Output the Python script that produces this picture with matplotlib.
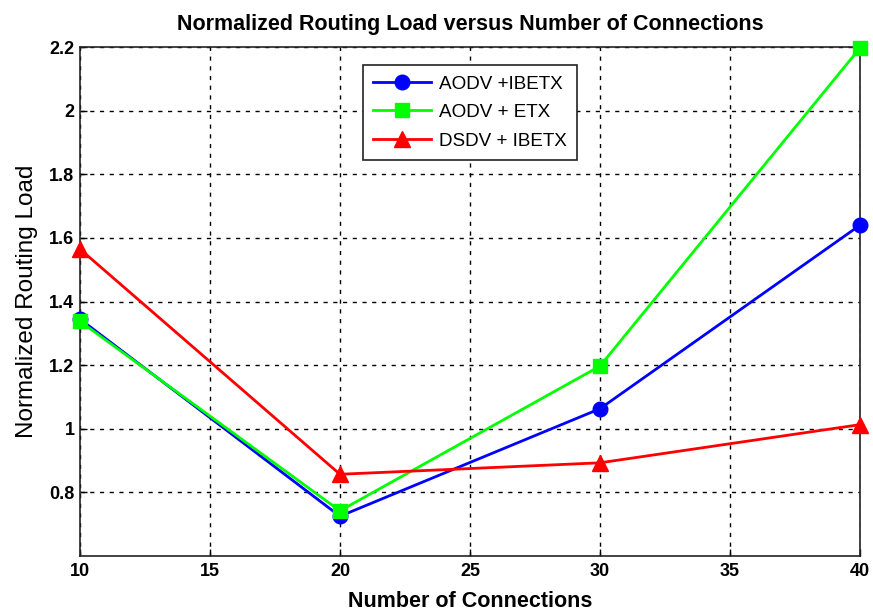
import matplotlib
matplotlib.use("Agg")
import matplotlib.pyplot as plt

# Carga de enrutamiento normalizada vs número de conexiones
connections = [10, 20, 30, 40]
aodv_ibetx = [1.345, 0.725, 1.063, 1.64]
aodv_etx = [1.338, 0.742, 1.197, 2.197]
dsdv_ibetx = [1.565, 0.857, 0.893, 1.013]

y_ticks = [0.8, 1.0, 1.2, 1.4, 1.6, 1.8, 2.0, 2.2]
y_tick_labels = ['0.8', '1', '1.2', '1.4', '1.6', '1.8', '2', '2.2']

plt.rcParams['font.family'] = ['Liberation Sans', 'DejaVu Sans']

fig = plt.figure(figsize=(8.73, 6.12), dpi=100)
ax = fig.add_axes([0.0916, 0.0915, 0.8934, 0.8315])

# clip_on=False para que los marcadores de los bordes se vean enteros
ax.plot(connections, aodv_ibetx, color='#0000FF', marker='o', markersize=10.5,
        linewidth=2, label='AODV +IBETX', clip_on=False, zorder=3)
ax.plot(connections, aodv_etx, color='#00FF00', marker='s', markersize=9.5,
        linewidth=2, label='AODV + ETX', clip_on=False, zorder=3)
ax.plot(connections, dsdv_ibetx, color='#FF0000', marker='^', markersize=11,
        linewidth=2, label='DSDV + IBETX', clip_on=False, zorder=3)

ax.set_xlim(10, 40)
ax.set_ylim(0.6, 2.2)
ax.set_xticks([10, 15, 20, 25, 30, 35, 40])
ax.set_yticks(y_ticks)
ax.set_yticklabels(y_tick_labels)
ax.tick_params(direction='in', length=5, width=1, labelsize=13)
ax.tick_params(axis='x', pad=5)
ax.tick_params(axis='y', pad=4)
for lbl in ax.get_xticklabels() + ax.get_yticklabels():
    lbl.set_fontweight('bold')

ax.grid(True, color='black', linestyle=(0, (3, 4)), linewidth=1)
for sp in ax.spines.values():
    sp.set_linewidth(1.2)
    sp.set_color('#222222')

ax.set_title('Normalized Routing Load versus Number of Connections',
             fontsize=15.5, fontweight='bold', pad=12)
ax.set_xlabel('Number of Connections', fontsize=15.5, fontweight='bold', labelpad=8)
ax.set_ylabel('Normalized Routing Load', fontsize=17.5, labelpad=8)

leg = ax.legend(loc='upper center', bbox_to_anchor=(0.5, 0.965), borderaxespad=0,
                fontsize=13.6, fancybox=False, framealpha=1, edgecolor='#222222',
                handlelength=3.1, handletextpad=0.4, borderpad=0.55,
                labelspacing=0.6)
leg.get_frame().set_linewidth(1.2)

fig.savefig('out.png', dpi=100)
